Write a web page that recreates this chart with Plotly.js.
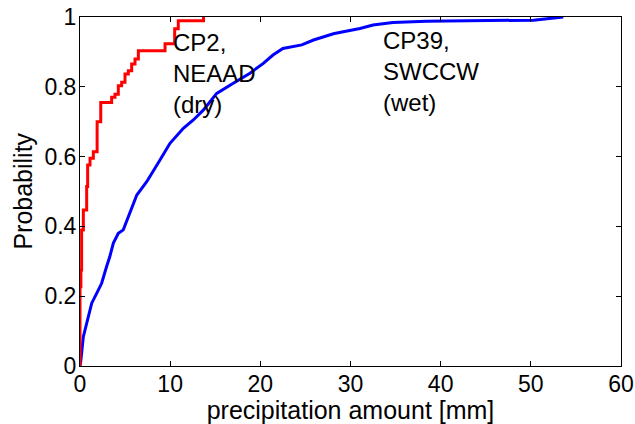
<!DOCTYPE html>
<html>
<head>
<meta charset="utf-8">
<script src="https://cdn.plot.ly/plotly-3.0.1.min.js"></script>
<style>html,body{margin:0;padding:0;background:#fff;}</style>
</head>
<body>
<div id="chart" style="width:635px;height:424px;"></div>
<script>
// CP2, NEAAD (dry) empirical CDF: step locations [mm] and probabilities
const redX = [0, 0, 0.1, 0.18, 0.37, 0.74, 0.85, 1.11, 1.48, 1.9, 2.3, 3.51, 3.88, 4.25, 4.62, 4.99, 5.36, 5.73, 6.1, 6.47, 9.43, 10.5, 10.9, 13.7];
const redP = [0, 0.227, 0.275, 0.39, 0.447, 0.514, 0.576, 0.595, 0.614, 0.70, 0.755, 0.770, 0.779, 0.803, 0.813, 0.837, 0.846, 0.865, 0.880, 0.903, 0.923, 0.966, 0.989, 1.0];

// CP39, SWCCW (wet) empirical CDF
const blueX = [0, 0.1, 0.37, 0.92, 1.3, 1.85, 2.4, 2.95, 3.3, 3.7, 4.25, 4.8, 5.35, 5.9, 6.3, 6.85, 7.4, 8.87, 9.98, 11.46, 12.57, 13.67, 15.16, 17.0, 18.85, 20.33, 21.4, 22.5, 24.6, 25.9, 28.1, 29.2, 31.05, 32.5, 34.7, 38.4, 50.3, 53.6];
const blueP = [0, 0.017, 0.084, 0.141, 0.18, 0.208, 0.237, 0.285, 0.313, 0.352, 0.38, 0.39, 0.428, 0.461, 0.49, 0.509, 0.528, 0.590, 0.638, 0.681, 0.705, 0.733, 0.781, 0.81, 0.839, 0.867, 0.891, 0.91, 0.92, 0.934, 0.952, 0.958, 0.967, 0.977, 0.984, 0.988, 0.991, 1.0];

const labels = [
  {text: 'CP2,<br>NEAAD<br>(dry)', x: 10.1, y: 0.97},
  {text: 'CP39,<br>SWCCW<br>(wet)', x: 33.4, y: 0.977}
];
const xTitle = 'precipitation amount [mm]';
const yTitle = 'Probability';

const FONT = 'Liberation Sans, Arial, Helvetica, sans-serif';

const traces = [
  {x: blueX, y: blueP, type: 'scatter', mode: 'lines', line: {color: '#0000ff', width: 3, shape: 'linear'}, hoverinfo: 'skip'},
  {x: redX, y: redP, type: 'scatter', mode: 'lines', line: {color: '#ff0000', width: 3, shape: 'hv'}, hoverinfo: 'skip'}
];

const axisCommon = {
  showline: true, linecolor: '#000', linewidth: 1, mirror: 'ticks',
  ticks: 'inside', ticklen: 5, tickwidth: 1, tickcolor: '#000',
  showgrid: false, zeroline: false,
  tickfont: {family: FONT, size: 23, color: '#000'}
};

const annots = labels.map(l => ({
  text: l.text, x: l.x, y: l.y, xref: 'x', yref: 'y',
  xanchor: 'left', yanchor: 'top', align: 'left', showarrow: false,
  font: {family: FONT, size: 24, color: '#000'}
}));
annots.push({
  text: yTitle, xref: 'paper', yref: 'paper', x: -0.107, y: 0.5,
  xanchor: 'center', yanchor: 'middle', textangle: -90, showarrow: false,
  font: {family: FONT, size: 25, color: '#000'}
});

const layout = {
  width: 635, height: 424,
  margin: {l: 80, r: 14, t: 17, b: 58},
  paper_bgcolor: '#fff', plot_bgcolor: '#fff',
  showlegend: false,
  font: {family: FONT, color: '#000'},
  xaxis: Object.assign({}, axisCommon, {
    range: [0, 60], dtick: 10, tick0: 0, ticklabelstandoff: -3,
    title: {text: xTitle, font: {family: FONT, size: 25, color: '#000'}, standoff: 0}
  }),
  yaxis: Object.assign({}, axisCommon, {
    range: [0, 1], dtick: 0.2, tick0: 0, ticklabelstandoff: -2
  }),
  annotations: annots
};

Plotly.newPlot('chart', traces, layout, {staticPlot: true, displayModeBar: false});
</script>
</body>
</html>
